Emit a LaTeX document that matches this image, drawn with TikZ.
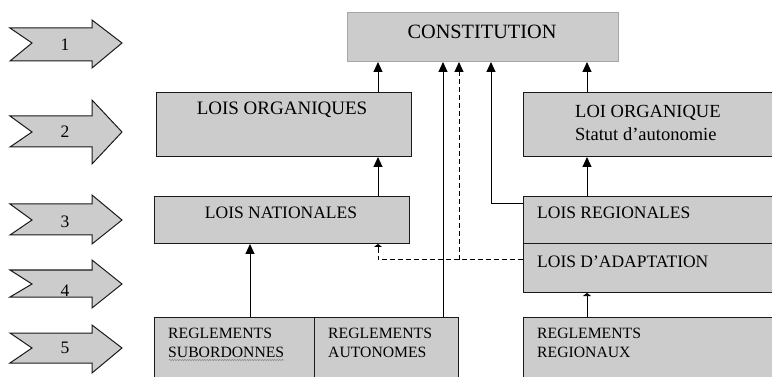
\documentclass[tikz,border=0pt]{standalone}
\usepackage{fontspec}
\setmainfont{Liberation Serif}
\usetikzlibrary{arrows.meta,decorations.pathmorphing}
\definecolor{boxgray}{HTML}{CCCCCC}
\definecolor{linegray}{HTML}{1A1A1A}
\tikzset{
  box/.style={draw=linegray, line width=1pt, fill=boxgray, rectangle, inner sep=0pt},
  lbl/.style={inner sep=0pt, text=black, font=\fontsize{17.5}{20}\selectfont},
  smalllbl/.style={inner sep=0pt, text=black, align=left, font=\fontsize{15.7}{19}\selectfont},
  arr/.style={line width=1pt, draw=black, -{Triangle[length=10pt,width=9pt]}},
  flatarr/.style={line width=1pt, draw=black, -{Triangle[length=3pt,width=8pt]}},
  dsh/.style={line width=1pt, draw=black, dash pattern=on 5pt off 3pt},
  chev/.style={draw=linegray, line width=1pt, fill=boxgray},
  numlbl/.style={inner sep=0pt, font=\fontsize{17.5}{20}\selectfont}
}
\begin{document}
\begin{tikzpicture}[x=1pt,y=-1pt]
\useasboundingbox (0,0) rectangle (772,377);
\clip (0,0) rectangle (772,377);

% chevrons
\foreach \t/\bt/\bb/\hb/\ty/\n/\ly in {20/28/61/68/43/1/45, 100/116/147/164/132/2/132, 195/204/235/244/220/3/222, 260/270/297/308/284/4/291, 325/333/363/373/348/5/348}{
  \draw[chev] (10,\bt) -- (92,\bt) -- (92,\t) -- (122,\ty) -- (92,\hb) -- (92,\bb) -- (10,\bb) -- (32,\ty) -- cycle;
  \node[numlbl] (num\n) at (65,\ly) {\n};
}

% boxes
\node[box, draw=gray!70, minimum width=271pt, minimum height=49pt, anchor=north west] (const) at (347,12) {};
\node[inner sep=0pt, font=\fontsize{20.3}{22}\selectfont] (constt) at (482,32) {CONSTITUTION};

\node[box, minimum width=255pt, minimum height=64pt, anchor=north west] (lorg) at (156,92) {};
\node[inner sep=0pt, font=\fontsize{19}{22}\selectfont] (lorgt) at (282,110) {LOIS ORGANIQUES};

\node[box, minimum width=270pt, minimum height=64pt, anchor=north west] (lorgs) at (523,92) {};
\node[inner sep=0pt, align=left, anchor=west, font=\fontsize{18.5}{23}\selectfont] (lorgst) at (575,123) {LOI ORGANIQUE\\Statut d’autonomie};

\node[box, minimum width=255pt, minimum height=47pt, anchor=north west] (lnat) at (154,196) {};
\node[lbl] (lnatt) at (281,213) {LOIS NATIONALES};

\node[box, minimum width=270pt, minimum height=47pt, anchor=north west] (lreg) at (523,196) {};
\node[lbl, anchor=west] (lregt) at (537,213) {LOIS REGIONALES};

\node[box, minimum width=270pt, minimum height=49pt, anchor=north west] (ladapt) at (523,243) {};
\node[lbl, anchor=west] (ladaptt) at (537,262) {LOIS D’ADAPTATION};

\node[box, minimum width=160pt, minimum height=80pt, anchor=north west] (rsub) at (154,317) {};
\node[smalllbl, anchor=west] (rsubt) at (168,342.5) {REGLEMENTS\\SUBORDONNES};
\draw[gray, line width=0.5pt, decorate, decoration={snake, amplitude=0.6pt, segment length=2.5pt}] (169,360) -- (284,360);

\node[box, minimum width=144pt, minimum height=80pt, anchor=north west] (raut) at (314,317) {};
\node[smalllbl, anchor=west] (rautt) at (328,342.5) {REGLEMENTS\\AUTONOMES};

\node[box, minimum width=270pt, minimum height=80pt, anchor=north west] (rreg) at (523,317) {};
\node[smalllbl, anchor=west] (rregt) at (537,342.5) {REGLEMENTS\\REGIONAUX};

% x positions of connectors
\coordinate (xa) at (378,0);
\coordinate (xb) at (250,0);
\coordinate (xc) at (443,0);
\coordinate (xd) at (459,0);
\coordinate (xe) at (491,0);
\coordinate (xf) at (587,0);
\coordinate (ydash) at (0,260);
\coordinate (yreg) at (0,204);

% connectors
\draw[arr] (lorg.north -| xa) -- (const.south -| xa);
\draw[arr] (lnat.north -| xa) -- (lorg.south -| xa);
\draw[arr] (rsub.north -| xb) -- (lnat.south -| xb);
\draw[arr] (raut.north -| xc) -- (const.south -| xc);
\draw[arr] (lreg.west |- yreg) -| (const.south -| xe);
\draw[arr] (lorgs.north -| xf) -- (const.south -| xf);
\draw[arr] (lreg.north -| xf) -- (lorgs.south -| xf);
\draw[flatarr] (rreg.north -| xf) -- (ladapt.south -| xf);

\draw[dsh] (ladapt.west |- ydash) -- (xa |- ydash) -- ([yshift=-3pt]lnat.south -| xa);
\draw[flatarr] ([yshift=-3pt]lnat.south -| xa) -- (lnat.south -| xa);
\draw[dsh] (xd |- ydash) -- ([yshift=-10pt]const.south -| xd);
\draw[arr] ([yshift=-10.5pt]const.south -| xd) -- (const.south -| xd);
\end{tikzpicture}
\end{document}
